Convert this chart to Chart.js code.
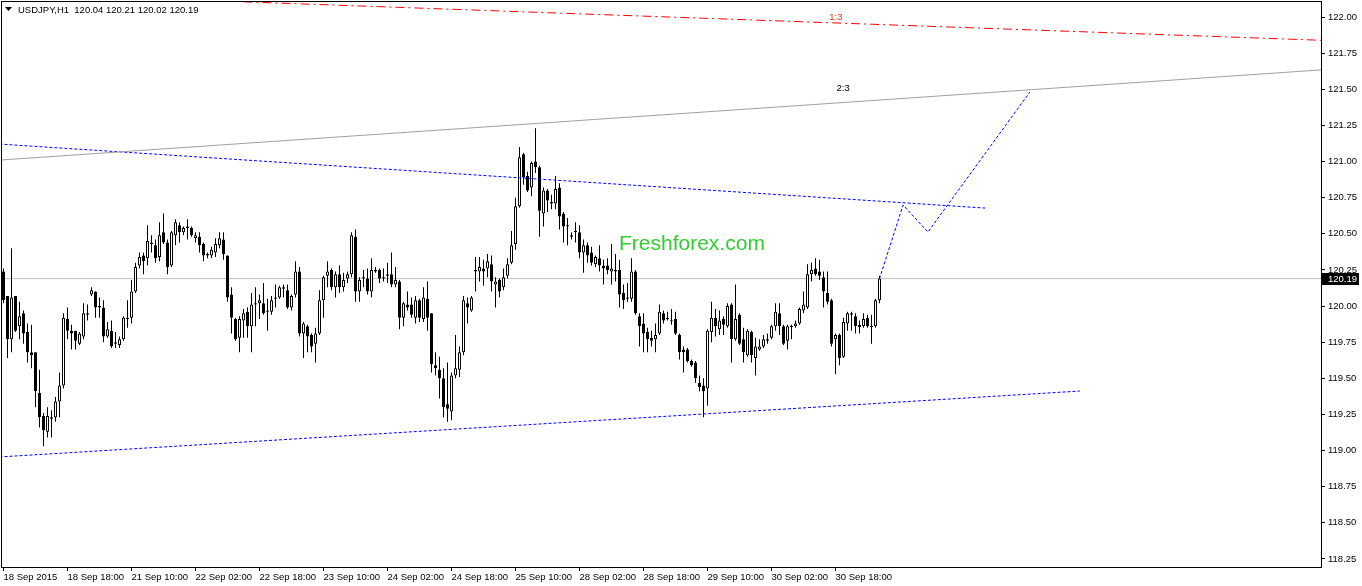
<!DOCTYPE html>
<html>
<head>
<meta charset="utf-8">
<script src="https://cdn.jsdelivr.net/npm/chart.js@4.4.1/dist/chart.umd.min.js"></script>
<style>
  html, body { margin: 0; padding: 0; background: #fff; }
  #wrap { width: 1362px; height: 586px; }
</style>
</head>
<body>
<div id="wrap"><canvas id="chart"></canvas></div>
<script>
const symbol = 'USDJPY,H1';
const tickEvery = 16;
const tickLabels = ['18 Sep 2015', '18 Sep 18:00', '21 Sep 10:00', '22 Sep 02:00', '22 Sep 18:00',
  '23 Sep 10:00', '24 Sep 02:00', '24 Sep 18:00', '25 Sep 10:00', '28 Sep 02:00', '28 Sep 18:00',
  '29 Sep 10:00', '30 Sep 02:00', '30 Sep 18:00'];
const yTicks = [118.25, 118.50, 118.75, 119.00, 119.25, 119.50, 119.75, 120.00,
  120.25, 120.50, 120.75, 121.00, 121.25, 121.50, 121.75, 122.00];

// hourly candles, 18 Sep 02:00 .. 1 Oct 05:00
const opens = [
  120.24,120.07,119.77,120.07,119.86,119.95,119.82,119.68,119.68,119.40,
  119.24,119.13,119.23,119.23,119.34,119.45,119.91,119.83,119.83,119.74,
  119.79,119.95,120.08,120.10,120.00,119.99,119.79,119.83,119.75,119.73,
  119.77,119.91,119.92,120.10,120.28,120.35,120.33,120.44,120.42,120.34,
  120.51,120.44,120.28,120.49,120.56,120.51,120.55,120.54,120.47,120.48,
  120.43,120.36,120.35,120.37,120.42,120.46,120.35,120.08,119.91,119.78,
  119.90,119.96,119.86,120.02,120.02,120.02,119.96,119.96,120.05,120.06,
  120.13,120.11,119.99,120.08,120.24,119.81,119.86,119.80,119.74,119.81,
  120.04,120.21,120.25,120.13,120.22,120.13,120.19,120.22,120.48,120.10,
  120.20,120.19,120.10,120.25,120.25,120.20,120.22,120.22,120.15,120.17,
  119.92,120.01,120.01,119.92,120.04,119.91,120.05,119.95,119.59,119.56,
  119.50,119.32,119.27,119.52,119.56,119.68,120.02,119.97,120.25,120.24,
  120.26,120.26,120.29,120.15,120.18,120.13,120.21,120.30,120.43,120.69,
  121.05,120.90,120.82,121.00,120.96,120.64,120.80,120.72,120.71,120.82,
  120.64,120.56,120.49,120.51,120.51,120.37,120.42,120.37,120.29,120.33,
  120.28,120.28,120.24,120.25,120.25,120.09,120.06,120.05,120.24,119.93,
  119.88,119.82,119.78,119.77,119.81,119.95,119.91,119.90,119.91,119.80,
  119.70,119.70,119.62,119.61,119.47,119.45,119.43,119.82,119.92,119.84,
  119.91,119.86,120.01,119.77,119.94,119.77,119.66,119.82,119.64,119.70,
  119.72,119.77,119.78,119.86,119.95,119.86,119.76,119.86,119.86,119.88,
  119.97,119.99,120.22,120.26,120.24,120.20,120.09,120.04,119.77,119.80,
  119.65,119.88,119.94,119.93,119.87,119.86,119.92,119.86,119.86,120.04
];
const highs = [
  120.26,120.07,120.40,120.07,120.03,119.97,119.88,119.87,119.68,119.56,
  119.26,119.30,119.28,119.37,119.54,119.95,119.99,119.87,119.83,119.82,
  120.02,120.01,120.13,120.10,120.06,120.04,119.89,119.90,119.82,119.79,
  119.93,120.04,120.18,120.30,120.37,120.37,120.56,120.49,120.46,120.58,
  120.64,120.46,120.52,120.60,120.58,120.55,120.60,120.55,120.51,120.51,
  120.44,120.37,120.41,120.47,120.51,120.51,120.35,120.13,119.92,119.93,
  119.98,119.99,120.09,120.13,120.08,120.16,120.05,120.07,120.15,120.14,
  120.15,120.15,120.08,120.31,120.27,119.89,119.87,119.81,119.85,120.11,
  120.21,120.31,120.26,120.24,120.28,120.23,120.24,120.51,120.53,120.20,
  120.25,120.26,120.33,120.27,120.26,120.26,120.30,120.37,120.27,120.18,
  120.03,120.10,120.06,120.07,120.05,120.13,120.17,119.95,119.68,119.65,
  119.57,119.61,119.54,119.80,119.72,120.07,120.06,120.07,120.34,120.34,
  120.32,120.36,120.35,120.20,120.19,120.26,120.33,120.52,120.75,121.10,
  121.06,120.93,121.00,121.23,120.97,120.82,120.81,120.77,120.90,120.85,
  120.65,120.61,120.51,120.58,120.56,120.46,120.44,120.41,120.35,120.42,
  120.32,120.33,120.43,120.36,120.32,120.15,120.16,120.33,120.25,119.95,
  119.95,119.85,119.83,119.88,120.01,119.97,119.96,119.98,119.96,119.81,
  119.72,119.71,119.63,119.62,119.52,119.50,119.84,120.03,119.98,119.97,
  119.93,120.02,120.02,120.15,119.95,119.85,119.84,119.83,119.78,119.77,
  119.80,119.81,119.87,120.02,120.02,119.87,119.87,119.87,119.90,119.99,
  120.10,120.29,120.30,120.33,120.32,120.24,120.24,120.05,119.81,119.81,
  119.92,119.96,119.96,119.95,119.90,119.95,119.94,119.94,120.05,120.21
];
const lows = [
  120.02,119.64,119.68,119.82,119.77,119.74,119.61,119.57,119.30,119.16,
  119.03,119.09,119.09,119.20,119.23,119.43,119.77,119.70,119.70,119.73,
  119.77,119.90,120.07,119.92,119.92,119.75,119.78,119.71,119.71,119.71,
  119.76,119.85,119.88,120.09,120.26,120.22,120.28,120.37,120.30,120.31,
  120.43,120.22,120.27,120.42,120.44,120.49,120.46,120.48,120.44,120.37,
  120.31,120.33,120.33,120.34,120.40,120.32,120.03,119.81,119.76,119.68,
  119.78,119.78,119.68,119.86,119.91,119.94,119.83,119.94,119.99,120.05,
  120.06,119.98,119.97,120.06,119.79,119.64,119.68,119.68,119.61,119.80,
  119.92,120.13,120.11,120.06,120.09,120.10,120.16,120.20,120.03,120.03,
  120.13,120.08,120.06,120.23,120.16,120.17,120.16,120.13,120.13,119.84,
  119.86,119.97,119.92,119.88,119.89,119.89,119.83,119.54,119.52,119.36,
  119.23,119.20,119.21,119.50,119.51,119.66,119.88,119.96,120.10,120.17,
  120.14,120.20,120.10,119.99,120.06,120.11,120.19,120.29,120.39,120.68,
  120.84,120.79,120.76,120.92,120.48,120.55,120.65,120.67,120.67,120.53,
  120.44,120.42,120.46,120.44,120.33,120.23,120.30,120.28,120.27,120.24,
  120.15,120.22,120.15,120.17,119.99,119.98,120.03,120.03,119.94,119.72,
  119.68,119.68,119.72,119.68,119.80,119.88,119.90,119.87,119.80,119.63,
  119.54,119.61,119.58,119.47,119.41,119.23,119.31,119.75,119.79,119.80,
  119.80,119.85,119.61,119.76,119.73,119.61,119.65,119.61,119.52,119.69,
  119.71,119.74,119.77,119.83,119.80,119.73,119.70,119.77,119.85,119.87,
  119.95,119.98,120.17,120.21,120.18,119.99,120.01,119.72,119.53,119.59,
  119.64,119.83,119.83,119.81,119.81,119.85,119.85,119.74,119.85,120.02
];
const closes = [
  120.04,119.77,120.06,119.83,119.93,119.81,119.68,119.66,119.41,119.23,
  119.14,119.24,119.22,119.34,119.45,119.92,119.83,119.81,119.76,119.81,
  119.95,119.94,120.11,119.99,119.99,119.79,119.84,119.72,119.74,119.77,
  119.92,119.92,120.10,120.27,120.34,120.31,120.45,120.43,120.33,120.49,
  120.44,120.27,120.51,120.58,120.51,120.54,120.54,120.49,120.49,120.42,
  120.35,120.35,120.39,120.43,120.47,120.36,120.06,119.92,119.77,119.91,
  119.95,119.86,120.01,120.01,120.04,119.95,119.97,120.04,120.06,120.13,
  120.12,119.99,120.07,120.24,119.81,119.88,119.79,119.72,119.81,120.04,
  120.20,120.24,120.13,120.22,120.13,120.18,120.22,120.49,120.10,120.18,
  120.19,120.10,120.25,120.24,120.19,120.19,120.21,120.15,120.18,119.92,
  120.02,119.99,119.94,120.04,119.92,120.06,119.92,119.60,119.57,119.50,
  119.30,119.29,119.52,119.57,119.68,120.04,119.99,120.06,120.24,120.27,
  120.24,120.31,120.17,120.17,120.10,120.20,120.29,120.42,120.69,121.03,
  120.89,120.80,120.99,120.96,120.66,120.80,120.73,120.71,120.81,120.62,
  120.55,120.55,120.48,120.52,120.37,120.42,120.35,120.30,120.34,120.28,
  120.26,120.25,120.26,120.24,120.08,120.04,120.05,120.24,119.95,119.86,
  119.81,119.77,119.76,119.80,119.96,119.90,119.92,119.895,119.81,119.68,
  119.68,119.62,119.59,119.50,119.44,119.41,119.83,119.92,119.86,119.90,
  119.87,120.00,119.77,119.91,119.74,119.68,119.83,119.66,119.72,119.72,
  119.77,119.76,119.86,119.96,119.86,119.74,119.86,119.855,119.88,119.98,
  120.01,120.22,120.25,120.22,120.21,120.10,120.03,119.74,119.80,119.64,
  119.89,119.95,119.95,119.86,119.855,119.91,119.86,119.855,120.04,120.19
];
const lastPrice = 120.19;

// drawn objects: [bar index, price]
const line13 = [[60, 122.105], [329.4, 121.839]];
const line23 = [[-1, 121.010], [330, 121.635]];
const channelTop = [[-1, 121.121], [245.4, 120.678]];
const channelBottom = [[-1, 118.956], [269.1, 119.412]];
const forecast = [[219, 120.19], [224.9, 120.699], [231.1, 120.512], [256.6, 121.481]];
const priceLine = [[-1, lastPrice], [330, lastPrice]];

const FONT = 'Liberation Sans';
const idx = opens.map((_, i) => i);
const pts = arr => arr.map(p => ({ x: p[0], y: p[1] }));

function lineSet(arr, color, dash, order) {
    return {
        type: 'line', data: pts(arr), borderColor: color, borderWidth: 1,
        borderDash: dash, pointRadius: 0, tension: 0, fill: false, order: order
    };
}

const overlay = {
    id: 'overlay',
    afterDraw(chart) {
        const { ctx, chartArea: a, scales: { x, y } } = chart;
        ctx.save();
        ctx.strokeStyle = '#000';
        ctx.lineWidth = 1;
        ctx.strokeRect(a.left - 0.5, a.top - 0.5, a.right - a.left + 1, a.bottom - a.top + 1);

        // header
        ctx.fillStyle = '#000';
        ctx.beginPath();
        ctx.moveTo(5, 7); ctx.lineTo(12, 7); ctx.lineTo(8.5, 11); ctx.closePath();
        ctx.fill();
        const n = opens.length - 1;
        const ohlc = [opens[n], highs[n], lows[n], closes[n]].map(v => v.toFixed(2)).join(' ');
        ctx.font = '9.5px "' + FONT + '"';
        ctx.textBaseline = 'middle';
        ctx.textAlign = 'left';
        ctx.fillText(symbol + '  ' + ohlc, 18, 10);

        // object labels
        ctx.textAlign = 'center';
        ctx.fillStyle = '#d8401c';
        ctx.fillText('1:3', x.getPixelForValue(208.1), y.getPixelForValue(122.0));
        ctx.fillStyle = '#000';
        ctx.fillText('2:3', x.getPixelForValue(209.9), y.getPixelForValue(121.509));

        // watermark
        ctx.textAlign = 'left';
        ctx.textBaseline = 'alphabetic';
        ctx.font = '21px "' + FONT + '"';
        ctx.fillStyle = '#33cc33';
        ctx.fillText('Freshforex.com', 619, 250);

        // current price box
        const py = Math.round(y.getPixelForValue(lastPrice));
        ctx.fillStyle = '#000';
        ctx.fillRect(a.right + 1, py - 6, 37, 12);
        ctx.fillStyle = '#fff';
        ctx.font = '9.5px "' + FONT + '"';
        ctx.textBaseline = 'middle';
        ctx.fillText(lastPrice.toFixed(2), a.right + 7, py);
        ctx.restore();
    }
};

new Chart(document.getElementById('chart'), {
    type: 'bar',
    data: {
        datasets: [
            lineSet(priceLine, '#c0c0c0', [], 6),
            {
                label: 'wicks',
                data: idx.map(i => ({ x: i, y: [lows[i], highs[i]] })),
                backgroundColor: '#000', borderWidth: 0, barThickness: 1,
                grouped: false, inflateAmount: 0, order: 5
            },
            {
                label: 'bodies',
                data: idx.map(i => ({ x: i, y: [opens[i], closes[i]] })),
                backgroundColor: idx.map(i => closes[i] >= opens[i] ? '#fff' : '#000'),
                borderColor: '#000', borderWidth: 1, borderSkipped: false,
                barThickness: 3, minBarLength: 1, grouped: false, inflateAmount: 0, order: 4
            },
            lineSet(line23, '#a0a0a0', [], 1),
            lineSet(line13, '#ff0000', [9, 4, 2, 4], 1),
            lineSet(channelTop, '#0000ff', [3, 2], 1),
            lineSet(channelBottom, '#0000ff', [3, 2], 1),
            lineSet(forecast, '#0000ff', [3, 2], 1)
        ]
    },
    options: {
        responsive: true,
        maintainAspectRatio: false,
        animation: false,
        events: [],
        layout: { padding: { left: 2, top: 2, right: 0, bottom: 0 } },
        plugins: { legend: { display: false }, tooltip: { enabled: false } },
        scales: {
            x: {
                type: 'linear', min: -0.375, max: 329.375, offset: false,
                afterBuildTicks: s => { s.ticks = tickLabels.map((_, k) => ({ value: k * tickEvery })); },
                afterFit: s => { s.height = 19; s.paddingLeft = 0; s.paddingRight = 0; },
                ticks: {
                    autoSkip: false, maxRotation: 0, align: 'start', padding: 1, color: '#000',
                    font: { family: FONT, size: 9.5 },
                    callback: v => tickLabels[Math.round(v / tickEvery)]
                },
                grid: { drawOnChartArea: false, drawTicks: true, tickLength: 4, color: '#000', offset: false },
                border: { display: false }
            },
            y: {
                type: 'linear', position: 'right', min: 118.1946, max: 122.1038,
                afterBuildTicks: s => { s.ticks = yTicks.map(v => ({ value: v })); },
                afterFit: s => { s.width = 41; s.paddingTop = 0; s.paddingBottom = 0; },
                ticks: {
                    padding: 3, color: '#000', font: { family: FONT, size: 9.5 },
                    callback: v => v.toFixed(2)
                },
                grid: { drawOnChartArea: false, drawTicks: true, tickLength: 4, color: '#000' },
                border: { display: false }
            }
        }
    },
    plugins: [overlay]
});
</script>
</body>
</html>
